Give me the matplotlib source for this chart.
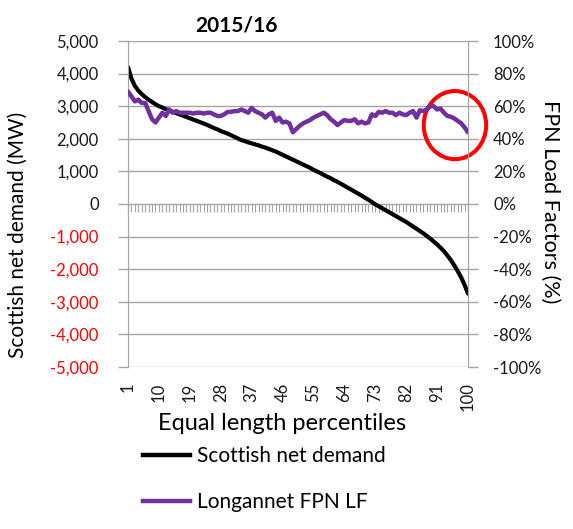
import numpy as np
import matplotlib
matplotlib.use("Agg")
import matplotlib.pyplot as plt
from matplotlib.patches import Ellipse
from matplotlib.lines import Line2D
from matplotlib.ticker import FuncFormatter

plt.rcParams['font.family'] = ['Lato', 'DejaVu Sans']

percentiles = list(range(1, 101))

# Scottish net demand (MW)
net_demand = [4200, 3850, 3620, 3480, 3370, 3280, 3200, 3130, 3060, 3000,
              2960, 2910, 2870, 2830, 2790, 2750, 2710, 2670, 2630, 2590,
              2550, 2510, 2470, 2430, 2380, 2330, 2290, 2240, 2200, 2160,
              2110, 2060, 2010, 1960, 1930, 1890, 1860, 1830, 1800, 1760,
              1730, 1690, 1650, 1610, 1560, 1510, 1460, 1410, 1360, 1310,
              1260, 1210, 1160, 1110, 1050, 1000, 950, 890, 840, 790,
              730, 680, 620, 560, 500, 440, 380, 320, 260, 190,
              130, 60, -10, -70, -130, -190, -250, -310, -370, -430,
              -490, -550, -620, -690, -760, -830, -900, -980, -1060, -1150,
              -1240, -1340, -1450, -1580, -1720, -1880, -2060, -2250, -2480, -2750]

# Longannet FPN load factor (%)
fpn_lf = [69, 66, 63, 64, 62, 62, 57, 52, 50, 53,
          56, 54, 58, 56, 57, 56, 56, 56, 56, 55.5,
          56, 56, 55.5, 56, 56, 55, 54, 54, 55, 56.5,
          56.5, 57, 57, 58, 57, 56, 59, 57, 56, 55,
          53, 55, 56, 51, 53, 50, 50.5, 49.5, 44, 46,
          48, 49.5, 50.5, 51.5, 53, 54, 55, 56, 54.5, 52,
          50.5, 48.5, 50, 51.5, 51, 51, 52, 49.5, 50.5, 49.5,
          50, 55, 54, 56.5, 56, 57, 56, 56, 54.5, 56,
          55, 54.5, 56, 57, 53, 57.5, 57, 58, 60, 60,
          58, 58.5, 56, 54, 53.5, 52.5, 51, 49.5, 47, 44]

left_ticks = list(range(-5000, 5001, 1000))
right_ticks = [-1.0, -0.8, -0.6, -0.4, -0.2, 0, 0.2, 0.4, 0.6, 0.8, 1.0]
x_labels = list(range(1, 101, 9))

W, H = 573, 529
fig = plt.figure(figsize=(W / 100, H / 100), dpi=100)
ax = fig.add_axes([128 / W, 1 - 367 / H, (468 - 128) / W, (367 - 41) / H])
ax2 = ax.twinx()

grid_c = '#a6a6a6'
ax.plot(percentiles, net_demand, color='black', lw=3, solid_capstyle='round', zorder=4)
ax2.plot(percentiles, np.array(fpn_lf) / 100, color='#7030a0', lw=3.2, solid_capstyle='round', zorder=3)

ax.set_xlim(1, 100)
ax.set_ylim(-5000, 5000)
ax2.set_ylim(-1, 1)

ax.set_yticks(left_ticks)
ax.set_yticklabels([f"{v:,}" for v in left_ticks])
for lab, v in zip(ax.get_yticklabels(), left_ticks):
    lab.set_color('#ff0000' if v < 0 else '#1a1a1a')
ax.grid(axis='y', color=grid_c, lw=1)
ax.tick_params(axis='y', length=7, color=grid_c, width=1, pad=14, labelsize=12)

ax2.set_yticks(right_ticks)
ax2.yaxis.set_major_formatter(FuncFormatter(lambda v, p: f"{v:.0%}"))
ax2.tick_params(axis='y', length=7, color=grid_c, width=1, pad=11, labelsize=12, labelcolor='#1a1a1a')

ax.set_xticks(x_labels)
ax.set_xticklabels([str(v) for v in x_labels], rotation=90, va='top')
ax.tick_params(axis='x', length=0, pad=11, labelsize=12, labelcolor='#1a1a1a')

for a in (ax, ax2):
    for s in ('top', 'bottom'):
        a.spines[s].set_visible(False)
    a.spines['left'].set_color(grid_c)
    a.spines['right'].set_color(grid_c)

# category axis crossing at zero, with a tick per percentile
sec = ax.secondary_xaxis(0.5)
sec.set_xticks(percentiles)
sec.set_xticklabels([])
sec.tick_params(length=6, color=grid_c, width=0.8, direction='in')
sec.spines['bottom'].set_color(grid_c)
sec.spines['top'].set_color(grid_c)

ell = Ellipse((96.2, 2420), 18.2, 2090, fill=False, ec='#ff0000', lw=2.9, clip_on=False, zorder=5)
ax.add_patch(ell)

fig.text(236 / W, 1 - 25 / H, '2015/16', ha='center', va='center', fontsize=15, fontweight='bold')
fig.text(18 / W, 1 - 235 / H, 'Scottish net demand (MW)', rotation=90, ha='center', va='center', fontsize=15)
fig.text(550 / W, 1 - 202 / H, 'FPN Load Factors (%)', rotation=270, ha='center', va='center', fontsize=15.5)
fig.text(282 / W, 1 - 424 / H, 'Equal length percentiles', ha='center', va='center', fontsize=17)

handles = [Line2D([], [], color='black', lw=3.2), Line2D([], [], color='#7030a0', lw=3.2)]
fig.legend(handles, ['Scottish net demand', 'Longannet FPN LF'], loc='upper left',
           bbox_to_anchor=(143 / W, 1 - 446 / H), frameon=False, fontsize=15,
           handlelength=2.26, handletextpad=0.33, labelspacing=1.26,
           borderpad=0, borderaxespad=0)

fig.savefig('out.png', dpi=100)
